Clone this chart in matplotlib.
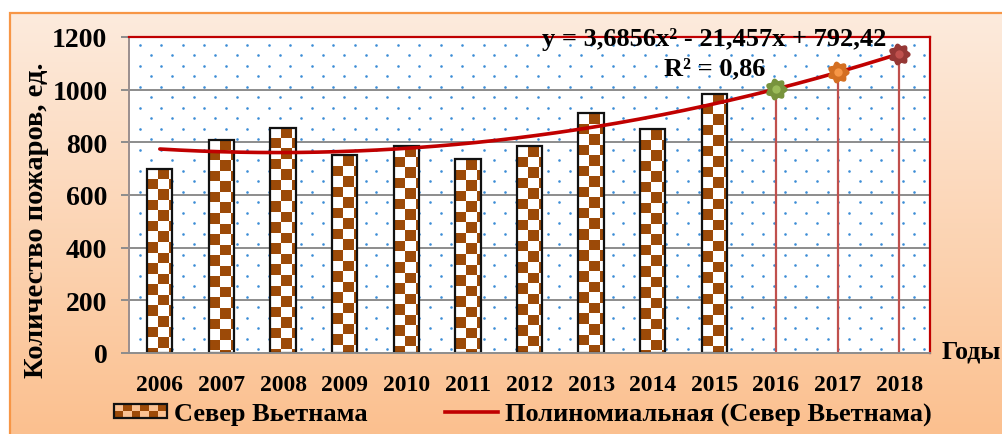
import numpy as np
import matplotlib
matplotlib.use("Agg")
import matplotlib.pyplot as plt
from matplotlib.patches import Rectangle
from matplotlib.path import Path
from matplotlib.lines import Line2D
from matplotlib.legend_handler import HandlerBase

# ---- data ----
years = ["2006", "2007", "2008", "2009", "2010", "2011", "2012",
         "2013", "2014", "2015", "2016", "2017", "2018"]
fires = [700, 810, 855, 750, 785, 735, 785, 910, 850, 985]
# polynomial trend y = a*x^2 + b*x + c, x = 1 for 2006
trend_coef = [3.6856, -21.457, 792.42]
r_squared = "0,86"
forecast_years = ["2016", "2017", "2018"]
forecast_outer = ["#77933C", "#D46F22", "#953735"]
forecast_inner = ["#9BBB59", "#F79646", "#C0504D"]
y_ticks = [0, 200, 400, 600, 800, 1000, 1200]

BROWN = "#9C4A08"
TREND = "#C00000"
FONT = "Liberation Serif"

plt.rcParams["font.family"] = [FONT, "DejaVu Serif"]
plt.rcParams["font.weight"] = "bold"

W, H = 1003, 435
fig = plt.figure(figsize=(W / 100, H / 100), dpi=100)

# background: warm vertical gradient inside an orange frame
bg = fig.add_axes([0, 0, 1, 1], zorder=-10)
bg.set_axis_off()
top = np.array([253, 235, 221]) / 255
bot = np.array([251, 192, 143]) / 255
t = np.linspace(0, 1, 256)[:, None]
grad = (top[None, :] * (1 - t) + bot[None, :] * t)[:, None, :]
bg.imshow(np.repeat(grad, 2, axis=1), extent=[10 / W, 1, 0, 1 - 14 / H],
          aspect="auto", origin="upper", transform=bg.transAxes, zorder=0)
bg.add_patch(Rectangle((10 / W, -0.01), 1.0, 1 - 14 / H + 0.01,
                       transform=bg.transAxes, fill=False,
                       ec="#F79646", lw=1.6, zorder=1))
bg.set_xlim(0, 1)
bg.set_ylim(0, 1)

# ---- main plot ----
ax = fig.add_axes([129 / W, 1 - 354 / H, 801 / W, 316 / H])
ax.set_facecolor("white")
n = len(years)
x = np.arange(n)
ax.set_xlim(-0.5, n - 0.5)
ax.set_ylim(0, 1200)

# dotted pattern fill of the plot area
dx, dy = 21.5 / 801, 10.5 / 316
pts = []
for j, yy in enumerate(np.arange(dy * 0.35, 1.0, dy)):
    off = 0.0 if j % 2 else dx / 2
    for xx in np.arange(dx * 0.5 + off - dx, 1.0, dx):
        if 0 < xx < 1:
            pts.append((xx, yy))
pts = np.array(pts)
ax.scatter(pts[:, 0], pts[:, 1], s=3.5, color="#3C8DD6", lw=0,
           transform=ax.transAxes, zorder=0.5, clip_on=True)

# gridlines
for v in y_ticks[1:-1]:
    ax.axhline(v, color="#8C8C8C", lw=1.4, zorder=1)

# bars with checkerboard fill
bw = 0.41
bars = ax.bar(x[:len(fires)], fires, width=bw, color="none",
              edgecolor="#111111", lw=1.6, zorder=3)
cw, ch = 0.17, 40.0
for rect in bars:
    x0, h = rect.get_x(), rect.get_height()
    ncol, nrow = 3, int(np.ceil(h / ch)) + 1
    board = (np.add.outer(np.arange(nrow), np.arange(ncol)) % 2)
    img = np.ones((nrow, ncol, 3))
    img[board == 1] = matplotlib.colors.to_rgb(BROWN)
    im = ax.imshow(img, extent=[x0, x0 + ncol * cw, h - nrow * ch, h],
                   origin="upper", interpolation="nearest", aspect="auto",
                   zorder=2)
    im.set_clip_path(rect)
ax.set_xlim(-0.5, n - 0.5)
ax.set_ylim(0, 1200)

# polynomial trend
xs = np.linspace(0, n - 1, 300)
a, b, c = trend_coef
ys = a * (xs + 1) ** 2 + b * (xs + 1) + c
ax.plot(xs, ys, color=TREND, lw=2.6, zorder=4, solid_capstyle="round")

# forecast points with drop lines
theta = np.linspace(0, 2 * np.pi, 141)
r = 1 + 0.13 * np.cos(7 * theta)
flower = Path(np.column_stack([r * np.cos(theta), r * np.sin(theta)]),
              closed=True)
for yr, oc, ic in zip(forecast_years, forecast_outer, forecast_inner):
    i = years.index(yr)
    val = a * (i + 1) ** 2 + b * (i + 1) + c
    ax.plot([i, i], [0, val], color="#C0504D", lw=1.6, zorder=3)
    ax.plot(i, val, marker=flower, ms=15, mfc=oc, mec=oc, zorder=5)
    ax.plot(i, val, marker="o", ms=6, mfc=ic, mec="none", zorder=6)

# spines
for s in ["top", "right"]:
    ax.spines[s].set_color(TREND)
    ax.spines[s].set_linewidth(1.6)
ax.spines["left"].set_color("#9A8E8E")
ax.spines["bottom"].set_color("#8C8C8C")
ax.spines["left"].set_linewidth(1.4)
ax.spines["bottom"].set_linewidth(1.4)
for s in ax.spines.values():
    s.set_zorder(7)

ax.set_yticks(y_ticks)
ax.set_yticklabels([str(v) for v in y_ticks], fontsize=20, fontweight="bold")
ax.tick_params(axis="y", length=5.5, width=1.4, color="#8C8C8C", pad=10)
ax.set_xticks(x)
ax.set_xticklabels(years, fontsize=17, fontweight="bold")
ax.tick_params(axis="x", length=0, pad=15)

# annotations
ax.text(9.0, 1195, "y = 3,6856x² - 21,457x + 792,42", ha="center",
        va="center", fontsize=19, fontweight="bold", zorder=8)
ax.text(9.0, 1082, "R² = " + r_squared, ha="center", va="center",
        fontsize=19, fontweight="bold", zorder=8)

fig.text(37 / W, 1 - 220 / H, "Количество пожаров, ед.", rotation=90,
         ha="center", va="center", fontsize=20.5, fontweight="bold")
fig.text(942 / W, 1 - 352 / H, "Годы", ha="left", va="center",
         fontsize=18.5, fontweight="bold")


# legend
class CheckerHandler(HandlerBase):
    def create_artists(self, legend, orig_handle, xdescent, ydescent,
                       width, height, fontsize, trans):
        arts = []
        ncol, nrow = 6, 2
        cwid, chgt = width / ncol, height / nrow
        for i in range(ncol):
            for j in range(nrow):
                if (i + j) % 2 == 0:
                    arts.append(Rectangle((-xdescent + i * cwid,
                                           -ydescent + j * chgt),
                                          cwid, chgt, fc=BROWN, ec="none",
                                          transform=trans))
        arts.append(Rectangle((-xdescent, -ydescent), width, height,
                              fc="none", ec="#111111", lw=1.6,
                              transform=trans))
        return arts


bar_handle = Rectangle((0, 0), 1, 1)
line_handle = Line2D([], [], color=TREND, lw=2.6)
fig.legend([bar_handle, line_handle],
           ["Север Вьетнама", "Полиномиальная (Север Вьетнама)"],
           handler_map={Rectangle: CheckerHandler()},
           loc="center", bbox_to_anchor=(523 / W, 1 - 415 / H), ncol=2,
           frameon=False, handlelength=2.0, handleheight=0.45,
           handletextpad=0.27, columnspacing=2.95,
           prop={"weight": "bold", "size": 19, "family": FONT})

fig.savefig("out.png", dpi=100)
